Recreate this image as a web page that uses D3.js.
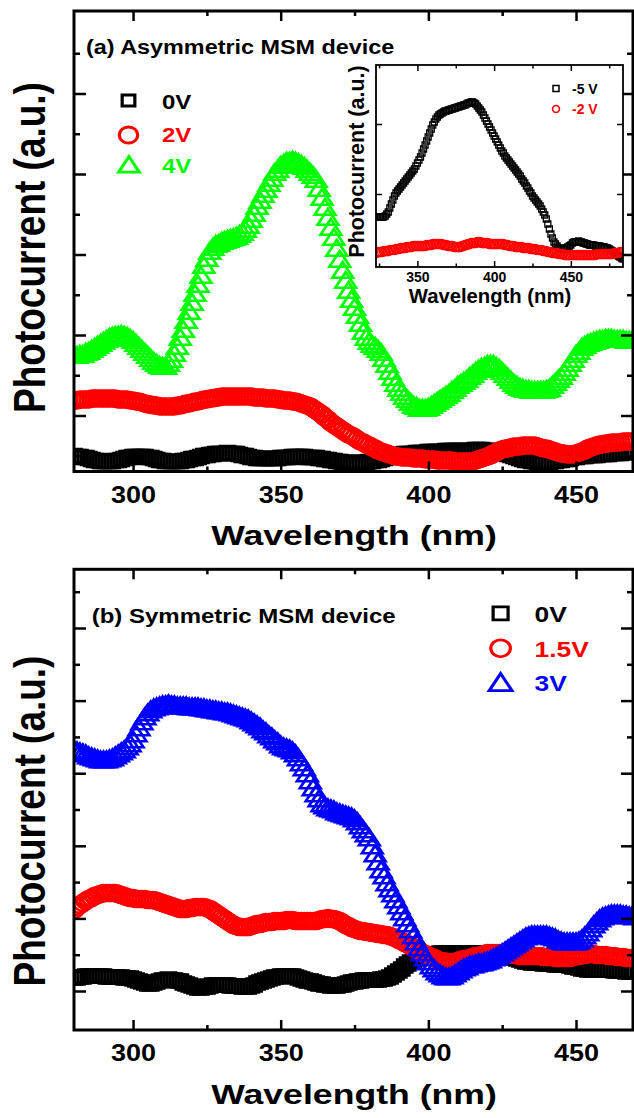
<!DOCTYPE html>
<html>
<head>
<meta charset="utf-8">
<script src="https://cdn.jsdelivr.net/npm/d3@7"></script>
<style>
  body { margin: 0; background: #fff; }
  svg { display: block; }
  text { font-family: "Liberation Sans", Arial, sans-serif; font-weight: bold; }
</style>
</head>
<body>
<svg id="chart" width="634" height="1118"></svg>
<script>
// wavelength grid (nm), 1 nm steps
const wavelength = d3.range(280, 471);
const insetWavelength = d3.range(323, 485);

// x ticks
const xMajor = [300, 350, 400, 450];
const xMinor = [325, 375, 425];
const insetXMajor = [350, 400, 450];
const insetXMinor = [325, 375, 425, 475];

// y ticks (arbitrary units, unlabeled)
const yMajorA = [5.6, 13.65, 21.7, 29.75, 37.8];
const yMinorA = [1.575, 9.625, 17.675, 25.725, 33.775, 41.825];
const yMajorB = [3.9, 11.16, 18.42, 25.68, 32.94, 40.2];
const yMinorB = [7.53, 14.79, 22.05, 29.31, 36.57, 43.83];
const insetYMajor = [7.3, 14.3];

// (a) asymmetric MSM device
const a0V = [
  1.6, 1.5, 1.5, 1.4, 1.4, 1.3, 1.2, 1.1, 1.1, 1.0,
  1.0, 1.0, 1.0, 1.0, 1.1, 1.1, 1.2, 1.3, 1.4, 1.4,
  1.5, 1.5, 1.5, 1.5, 1.5, 1.4, 1.4, 1.3, 1.2, 1.1,
  1.1, 1.0, 1.0, 1.0, 1.0, 1.0, 1.0, 1.1, 1.1, 1.2,
  1.3, 1.3, 1.4, 1.5, 1.6, 1.6, 1.7, 1.7, 1.8, 1.8,
  1.8, 1.8, 1.9, 1.8, 1.8, 1.8, 1.7, 1.6, 1.6, 1.5,
  1.4, 1.4, 1.3, 1.3, 1.3, 1.3, 1.3, 1.3, 1.3, 1.3,
  1.4, 1.4, 1.4, 1.4, 1.5, 1.5, 1.5, 1.5, 1.5, 1.4,
  1.4, 1.4, 1.4, 1.3, 1.3, 1.2, 1.2, 1.1, 1.1, 1.0,
  1.0, 0.9, 0.9, 0.9, 0.9, 0.9, 0.9, 0.9, 0.9, 0.9,
  1.0, 1.0, 1.1, 1.1, 1.2, 1.3, 1.4, 1.4, 1.5, 1.6,
  1.7, 1.7, 1.8, 1.8, 1.8, 1.8, 1.9, 1.9, 1.9, 1.9,
  2.0, 2.0, 2.0, 2.0, 2.0, 2.0, 2.1, 2.1, 2.1, 2.1,
  2.1, 2.1, 2.1, 2.1, 2.1, 2.1, 2.2, 2.2, 2.2, 2.1,
  2.1, 2.1, 2.1, 2.0, 2.0, 1.9, 1.8, 1.7, 1.6, 1.5,
  1.4, 1.3, 1.2, 1.1, 1.1, 1.0, 1.0, 0.9, 0.9, 0.9,
  0.9, 0.9, 1.0, 1.0, 1.1, 1.1, 1.2, 1.2, 1.3, 1.4,
  1.4, 1.5, 1.5, 1.5, 1.6, 1.6, 1.6, 1.6, 1.7, 1.7,
  1.7, 1.7, 1.8, 1.8, 1.8, 1.8, 1.9, 1.9, 1.9, 1.9,
  1.9
];
const a2V = [
  7.1, 7.1, 7.2, 7.2, 7.2, 7.2, 7.3, 7.3, 7.3, 7.3,
  7.3, 7.3, 7.3, 7.3, 7.3, 7.2, 7.2, 7.2, 7.2, 7.1,
  7.1, 7.0, 7.0, 6.9, 6.8, 6.7, 6.7, 6.6, 6.6, 6.5,
  6.5, 6.5, 6.5, 6.5, 6.5, 6.6, 6.6, 6.7, 6.8, 6.8,
  6.9, 7.0, 7.0, 7.1, 7.2, 7.2, 7.3, 7.3, 7.4, 7.4,
  7.5, 7.5, 7.5, 7.5, 7.5, 7.5, 7.5, 7.5, 7.5, 7.5,
  7.5, 7.4, 7.4, 7.4, 7.4, 7.3, 7.3, 7.3, 7.3, 7.2,
  7.2, 7.1, 7.1, 7.1, 7.0, 7.0, 6.9, 6.8, 6.7, 6.6,
  6.5, 6.3, 6.1, 5.9, 5.7, 5.4, 5.2, 4.9, 4.7, 4.5,
  4.3, 4.1, 3.9, 3.7, 3.6, 3.4, 3.2, 3.0, 2.9, 2.7,
  2.6, 2.4, 2.3, 2.1, 2.0, 1.9, 1.8, 1.7, 1.6, 1.5,
  1.5, 1.4, 1.4, 1.4, 1.4, 1.3, 1.3, 1.3, 1.3, 1.2,
  1.2, 1.2, 1.2, 1.1, 1.1, 1.1, 1.1, 1.1, 1.1, 1.0,
  1.0, 1.0, 1.0, 1.0, 1.0, 1.0, 1.1, 1.2, 1.3, 1.4,
  1.5, 1.6, 1.8, 1.9, 2.1, 2.2, 2.3, 2.3, 2.4, 2.5,
  2.5, 2.5, 2.6, 2.6, 2.6, 2.6, 2.6, 2.5, 2.4, 2.3,
  2.3, 2.2, 2.1, 2.0, 1.9, 1.8, 1.8, 1.7, 1.7, 1.7,
  1.8, 1.9, 2.0, 2.1, 2.3, 2.4, 2.5, 2.6, 2.7, 2.7,
  2.8, 2.8, 2.9, 2.9, 2.9, 2.9, 3.0, 3.0, 3.0, 3.0,
  3.0
];
const a4V = [
  11.4, 11.4, 11.5, 11.5, 11.7, 11.8, 12.0, 12.2, 12.4, 12.6,
  12.8, 13.0, 13.2, 13.3, 13.4, 13.4, 13.5, 13.4, 13.3, 13.1,
  12.9, 12.6, 12.3, 12.0, 11.7, 11.4, 11.1, 10.8, 10.6, 10.4,
  10.3, 10.3, 10.6, 11.0, 11.6, 12.3, 13.2, 14.0, 14.9, 15.8,
  16.7, 17.6, 18.5, 19.4, 20.4, 21.1, 21.8, 22.2, 22.5, 22.6,
  22.8, 22.9, 23.0, 23.1, 23.2, 23.3, 23.5, 23.7, 24.0, 24.4,
  25.0, 25.6, 26.3, 26.9, 27.5, 28.0, 28.6, 29.1, 29.7, 30.0,
  30.4, 30.6, 30.8, 30.8, 30.9, 30.8, 30.7, 30.5, 30.3, 30.0,
  29.7, 29.4, 29.0, 28.1, 27.2, 26.2, 25.2, 24.2, 23.2, 22.1,
  21.0, 19.9, 18.9, 17.9, 17.0, 16.2, 15.4, 14.6, 13.8, 13.2,
  12.8, 12.5, 12.3, 12.0, 11.7, 11.1, 10.5, 9.8, 9.2, 8.6,
  8.1, 7.7, 7.3, 7.0, 6.7, 6.4, 6.3, 6.1, 6.1, 6.1,
  6.2, 6.4, 6.6, 6.8, 7.0, 7.2, 7.4, 7.6, 7.9, 8.1,
  8.4, 8.6, 8.8, 9.0, 9.3, 9.5, 9.8, 10.0, 10.2, 10.3,
  10.5, 10.5, 10.5, 10.3, 10.1, 9.8, 9.5, 9.2, 8.9, 8.6,
  8.4, 8.2, 8.1, 8.0, 8.0, 7.9, 7.9, 7.9, 7.9, 7.9,
  8.0, 8.1, 8.4, 8.7, 9.0, 9.3, 9.7, 10.1, 10.6, 11.0,
  11.5, 11.8, 12.2, 12.4, 12.6, 12.7, 12.8, 12.9, 13.0, 13.0,
  13.1, 13.1, 13.1, 13.0, 13.0, 13.0, 13.0, 12.9, 12.9, 12.9,
  12.9
];

// (b) symmetric MSM device
const b0V = [
  5.2, 5.2, 5.3, 5.3, 5.4, 5.4, 5.4, 5.4, 5.4, 5.4,
  5.4, 5.3, 5.3, 5.3, 5.3, 5.3, 5.3, 5.2, 5.2, 5.2,
  5.1, 5.0, 4.9, 4.8, 4.7, 4.6, 4.6, 4.7, 4.8, 4.9,
  5.0, 5.0, 5.1, 5.0, 5.0, 4.9, 4.9, 4.7, 4.6, 4.5,
  4.4, 4.3, 4.2, 4.2, 4.3, 4.3, 4.4, 4.5, 4.5, 4.5,
  4.5, 4.5, 4.5, 4.4, 4.4, 4.4, 4.4, 4.3, 4.3, 4.3,
  4.4, 4.5, 4.7, 4.8, 4.9, 5.0, 5.1, 5.2, 5.3, 5.3,
  5.4, 5.4, 5.4, 5.4, 5.4, 5.3, 5.2, 5.1, 5.0, 4.9,
  4.9, 4.8, 4.7, 4.6, 4.6, 4.5, 4.5, 4.4, 4.4, 4.4,
  4.5, 4.5, 4.6, 4.7, 4.8, 4.8, 4.9, 4.9, 5.0, 5.0,
  5.0, 5.0, 5.0, 5.0, 5.1, 5.1, 5.2, 5.3, 5.5, 5.7,
  5.9, 6.1, 6.4, 6.6, 6.8, 6.9, 7.1, 7.2, 7.4, 7.4,
  7.5, 7.6, 7.6, 7.6, 7.7, 7.7, 7.7, 7.7, 7.7, 7.7,
  7.7, 7.7, 7.7, 7.7, 7.7, 7.7, 7.7, 7.7, 7.7, 7.7,
  7.7, 7.7, 7.7, 7.7, 7.7, 7.6, 7.5, 7.4, 7.3, 7.2,
  7.1, 7.0, 6.9, 6.8, 6.8, 6.7, 6.7, 6.7, 6.7, 6.6,
  6.6, 6.6, 6.6, 6.5, 6.5, 6.5, 6.5, 6.5, 6.4, 6.3,
  6.3, 6.2, 6.1, 6.1, 6.0, 6.0, 6.0, 6.0, 6.0, 6.0,
  6.0, 6.0, 6.0, 5.9, 5.9, 5.9, 5.9, 5.8, 5.8, 5.8,
  5.8
];
const b15V = [
  12.0, 12.3, 12.5, 12.7, 12.9, 13.1, 13.2, 13.4, 13.5, 13.6,
  13.7, 13.7, 13.7, 13.7, 13.7, 13.6, 13.5, 13.4, 13.3, 13.2,
  13.2, 13.1, 13.1, 13.1, 13.1, 13.0, 13.0, 13.0, 12.9, 12.8,
  12.7, 12.6, 12.5, 12.4, 12.3, 12.2, 12.1, 12.1, 12.1, 12.2,
  12.2, 12.3, 12.3, 12.3, 12.3, 12.2, 12.1, 11.9, 11.7, 11.5,
  11.3, 11.1, 10.9, 10.7, 10.5, 10.4, 10.3, 10.3, 10.3, 10.3,
  10.4, 10.5, 10.6, 10.6, 10.7, 10.8, 10.8, 10.8, 10.9, 10.9,
  10.9, 10.9, 11.0, 11.0, 11.0, 10.9, 10.9, 10.9, 10.9, 10.9,
  10.9, 10.9, 10.9, 11.0, 11.1, 11.1, 11.2, 11.1, 11.1, 11.0,
  10.9, 10.7, 10.5, 10.4, 10.2, 10.1, 10.0, 9.9, 9.9, 9.8,
  9.8, 9.7, 9.7, 9.6, 9.6, 9.5, 9.5, 9.4, 9.3, 9.2,
  9.0, 8.9, 8.7, 8.6, 8.4, 8.2, 8.1, 7.9, 7.7, 7.6,
  7.4, 7.3, 7.2, 7.0, 6.9, 6.9, 6.8, 6.8, 6.8, 6.8,
  6.9, 7.0, 7.1, 7.1, 7.2, 7.3, 7.4, 7.4, 7.5, 7.6,
  7.7, 7.7, 7.7, 7.7, 7.7, 7.7, 7.7, 7.6, 7.6, 7.5,
  7.5, 7.4, 7.4, 7.4, 7.4, 7.4, 7.4, 7.4, 7.4, 7.3,
  7.3, 7.3, 7.3, 7.2, 7.2, 7.2, 7.2, 7.2, 7.2, 7.3,
  7.4, 7.4, 7.5, 7.5, 7.6, 7.6, 7.6, 7.5, 7.5, 7.5,
  7.5, 7.4, 7.4, 7.4, 7.3, 7.3, 7.3, 7.2, 7.2, 7.2,
  7.2
];
const b3V = [
  27.8, 27.7, 27.6, 27.5, 27.4, 27.2, 27.1, 27.0, 26.9, 26.8,
  26.8, 26.8, 26.9, 27.0, 27.2, 27.4, 27.6, 27.8, 28.1, 28.4,
  28.8, 29.4, 30.0, 30.6, 31.1, 31.5, 31.8, 32.0, 32.1, 32.2,
  32.3, 32.3, 32.4, 32.3, 32.3, 32.2, 32.2, 32.2, 32.2, 32.1,
  32.1, 32.1, 32.1, 32.0, 32.0, 31.9, 31.9, 31.8, 31.8, 31.7,
  31.7, 31.6, 31.6, 31.5, 31.4, 31.3, 31.2, 31.1, 31.0, 30.9,
  30.7, 30.5, 30.3, 30.1, 29.8, 29.6, 29.3, 29.1, 28.8, 28.6,
  28.3, 28.1, 28.0, 27.9, 27.7, 27.4, 27.0, 26.5, 26.0, 25.4,
  24.7, 24.0, 23.4, 22.9, 22.4, 22.2, 22.0, 21.9, 21.8, 21.6,
  21.5, 21.4, 21.3, 21.2, 21.1, 20.9, 20.6, 20.2, 19.8, 19.4,
  19.0, 18.2, 17.4, 16.6, 15.8, 15.2, 14.5, 13.9, 13.4, 12.8,
  12.2, 11.6, 11.0, 10.4, 9.8, 9.2, 8.6, 8.0, 7.5, 7.0,
  6.6, 6.2, 5.9, 5.6, 5.4, 5.2, 5.1, 5.1, 5.2, 5.4,
  5.6, 5.8, 6.0, 6.1, 6.3, 6.3, 6.4, 6.5, 6.5, 6.6,
  6.7, 6.8, 7.0, 7.1, 7.3, 7.5, 7.7, 7.9, 8.1, 8.3,
  8.5, 8.7, 8.9, 9.1, 9.2, 9.3, 9.3, 9.3, 9.3, 9.3,
  9.3, 9.2, 9.1, 9.0, 8.8, 8.7, 8.6, 8.6, 8.6, 8.6,
  8.6, 8.7, 8.9, 9.2, 9.5, 9.9, 10.3, 10.6, 10.9, 11.1,
  11.2, 11.3, 11.4, 11.4, 11.4, 11.4, 11.3, 11.3, 11.2, 11.2,
  11.1
];

// inset of (a): reverse bias
const inset5V = [
  5.0, 5.0, 5.0, 5.0, 5.0, 5.0, 5.1, 5.3, 5.5, 5.9,
  6.3, 6.7, 7.1, 7.4, 7.6, 7.8, 8.0, 8.2, 8.4, 8.6,
  8.8, 9.0, 9.2, 9.4, 9.6, 9.8, 10.1, 10.4, 10.7, 11.0,
  11.4, 11.8, 12.2, 12.6, 13.0, 13.4, 13.8, 14.2, 14.5, 14.8,
  15.0, 15.2, 15.3, 15.4, 15.5, 15.6, 15.6, 15.7, 15.7, 15.8,
  15.8, 15.9, 15.9, 16.0, 16.0, 16.1, 16.1, 16.2, 16.2, 16.3,
  16.4, 16.4, 16.5, 16.5, 16.4, 16.3, 16.1, 15.9, 15.7, 15.5,
  15.2, 14.9, 14.6, 14.3, 14.0, 13.7, 13.4, 13.1, 12.8, 12.5,
  12.2, 11.9, 11.6, 11.4, 11.1, 10.9, 10.7, 10.5, 10.3, 10.1,
  9.9, 9.7, 9.5, 9.3, 9.1, 8.8, 8.6, 8.4, 8.1, 7.9,
  7.6, 7.4, 7.1, 6.9, 6.7, 6.5, 6.3, 6.1, 5.8, 5.5,
  5.2, 4.8, 4.3, 3.8, 3.3, 2.9, 2.5, 2.3, 2.1, 1.9,
  1.9, 1.8, 1.8, 1.8, 1.9, 2.0, 2.1, 2.2, 2.4, 2.5,
  2.5, 2.5, 2.6, 2.5, 2.5, 2.4, 2.4, 2.3, 2.3, 2.2,
  2.2, 2.2, 2.2, 2.1, 2.1, 2.1, 2.1, 2.0, 2.0, 2.0,
  1.9, 1.9, 1.8, 1.7, 1.6, 1.5, 1.4, 1.2, 1.1, 1.0,
  0.9, 0.8
];
const inset2V = [
  1.4, 1.5, 1.5, 1.5, 1.5, 1.6, 1.6, 1.6, 1.6, 1.7,
  1.7, 1.7, 1.7, 1.8, 1.8, 1.8, 1.9, 1.9, 1.9, 1.9,
  2.0, 2.0, 2.0, 2.0, 2.1, 2.1, 2.1, 2.1, 2.1, 2.1,
  2.1, 2.1, 2.1, 2.2, 2.2, 2.2, 2.2, 2.3, 2.3, 2.3,
  2.3, 2.3, 2.3, 2.3, 2.2, 2.2, 2.2, 2.1, 2.1, 2.1,
  2.1, 2.0, 2.0, 2.0, 2.0, 2.0, 2.1, 2.1, 2.2, 2.2,
  2.3, 2.3, 2.4, 2.4, 2.4, 2.4, 2.5, 2.5, 2.5, 2.4,
  2.4, 2.4, 2.4, 2.4, 2.3, 2.3, 2.3, 2.3, 2.3, 2.3,
  2.3, 2.3, 2.3, 2.3, 2.2, 2.2, 2.2, 2.1, 2.1, 2.1,
  2.1, 2.0, 2.0, 2.0, 2.0, 2.0, 1.9, 1.9, 1.9, 1.9,
  1.9, 1.8, 1.8, 1.8, 1.8, 1.7, 1.7, 1.7, 1.7, 1.6,
  1.6, 1.6, 1.5, 1.5, 1.5, 1.4, 1.4, 1.4, 1.4, 1.3,
  1.3, 1.3, 1.3, 1.2, 1.2, 1.2, 1.2, 1.2, 1.2, 1.2,
  1.2, 1.2, 1.2, 1.2, 1.2, 1.2, 1.2, 1.2, 1.2, 1.2,
  1.2, 1.2, 1.2, 1.2, 1.3, 1.3, 1.3, 1.3, 1.3, 1.3,
  1.3, 1.3, 1.3, 1.3, 1.3, 1.4, 1.4, 1.4, 1.4, 1.5,
  1.5, 1.5
];

const BLACK = "#000000", RED = "#ff0000", GREEN = "#00ff00", BLUE = "#0000ff";
const stretch = 1.15;   // source figure is a bit wider than tall

const svg = d3.select("#chart");
const xDomain = [280, 469.3];
const plotLeft = 74, plotRight = 633;

function label(g, str, x, y, size, opt = {}) {
  return g.append("text")
    .attr("transform", `translate(${x},${y}) scale(${opt.sx ?? 1.2},1)` + (opt.rotate ? ` rotate(${opt.rotate})` : ""))
    .attr("text-anchor", opt.anchor || "start")
    .attr("fill", opt.color || BLACK)
    .style("font-size", size + "px")
    .text(str);
}

function tickAxis(g, axis, values, len, width) {
  const a = g.call(axis.tickValues(values).tickSizeInner(-len).tickSizeOuter(0).tickFormat(""));
  a.select(".domain").remove();
  a.selectAll(".tick line").attr("stroke-width", width);
  a.selectAll(".tick text").remove();
  return a;
}

function drawPanel(cfg) {
  const x = d3.scaleLinear().domain(xDomain).range([plotLeft, plotRight]);
  const y = d3.scaleLinear().domain([0, cfg.yMax]).range([cfg.bottom, cfg.top]);
  const g = svg.append("g");

  svg.append("clipPath").attr("id", "clip-" + cfg.id).append("rect")
    .attr("x", plotLeft).attr("y", cfg.top)
    .attr("width", plotRight - plotLeft).attr("height", cfg.bottom - cfg.top);

  const plot = g.append("g").attr("clip-path", `url(#clip-${cfg.id})`);
  cfg.series.forEach(s => {
    const sym = d3.symbol(s.shape, s.size)();
    plot.append("g").selectAll("path")
      .data(s.values.map((v, i) => [wavelength[i], v]))
      .join("path")
      .attr("d", sym)
      .attr("transform", d => `translate(${x(d[0])},${y(d[1])}) scale(${stretch},1)`)
      .attr("fill", "none")
      .attr("stroke", s.color)
      .attr("stroke-width", 2.5);
  });

  // frame and inward ticks
  g.append("rect")
    .attr("x", plotLeft).attr("y", cfg.top)
    .attr("width", plotRight - plotLeft).attr("height", cfg.bottom - cfg.top)
    .attr("fill", "none").attr("stroke", BLACK).attr("stroke-width", 3);

  const bottomAxis = g.append("g").attr("transform", `translate(0,${cfg.bottom})`)
    .call(d3.axisBottom(x).tickValues(xMajor).tickSizeInner(-10).tickSizeOuter(0).tickFormat(d3.format("d")));
  bottomAxis.select(".domain").remove();
  bottomAxis.selectAll(".tick line").attr("stroke-width", 2.5);
  bottomAxis.selectAll(".tick text")
    .attr("y", 31.5).attr("dy", null)
    .attr("transform", `scale(${stretch},1)`)
    .attr("fill", BLACK)
    .style("font-size", "23.5px");

  tickAxis(g.append("g").attr("transform", `translate(0,${cfg.bottom})`), d3.axisBottom(x), xMinor, 5, 2.5);
  tickAxis(g.append("g").attr("transform", `translate(0,${cfg.top})`), d3.axisTop(x), xMajor, 10, 2.5);
  tickAxis(g.append("g").attr("transform", `translate(0,${cfg.top})`), d3.axisTop(x), xMinor, 5, 2.5);
  tickAxis(g.append("g").attr("transform", `translate(${plotLeft},0)`), d3.axisLeft(y), cfg.yMajor, 12, 2.5);
  tickAxis(g.append("g").attr("transform", `translate(${plotLeft},0)`), d3.axisLeft(y), cfg.yMinor, 6, 2.5);
  tickAxis(g.append("g").attr("transform", `translate(${plotRight},0)`), d3.axisRight(y), cfg.yMajor, 12, 2.5);
  tickAxis(g.append("g").attr("transform", `translate(${plotRight},0)`), d3.axisRight(y), cfg.yMinor, 6, 2.5);

  // titles
  label(g, "Wavelength (nm)", 354, cfg.bottom + 73.5, 28.5, { anchor: "middle", sx: 1.25 });
  label(g, "Photocurrent (a.u.)", 45, cfg.yTitleY, 37, { anchor: "middle", rotate: -90 });
  label(g, cfg.title, cfg.titleX, cfg.titleY, cfg.titleSize);

  // legend
  cfg.legend.forEach(l => {
    g.append("path")
      .attr("d", d3.symbol(l.shape, l.size)())
      .attr("transform", `translate(${l.mx},${l.my}) scale(${stretch},1)`)
      .attr("fill", "none").attr("stroke", l.color).attr("stroke-width", 2.8);
    label(g, l.text, l.tx, l.ty, cfg.legendSize, { color: l.color });
  });
  return g;
}

drawPanel({
  id: "a", top: 11, bottom: 471.5, yMax: 46.05,
  yMajor: yMajorA, yMinor: yMinorA, yTitleY: 247.5,
  title: "(a) Asymmetric MSM device", titleX: 86, titleY: 53.5, titleSize: 19.5,
  series: [
    { values: a0V, shape: d3.symbolSquare, size: 169, color: BLACK },
    { values: a2V, shape: d3.symbolCircle, size: 201, color: RED },
    { values: a4V, shape: d3.symbolTriangle, size: 140, color: GREEN }
  ],
  legendSize: 20,
  legend: [
    { text: "0V", shape: d3.symbolSquare, size: 121, color: BLACK, mx: 128.5, my: 100.5, tx: 162, ty: 108.5 },
    { text: "2V", shape: d3.symbolCircle, size: 201, color: RED, mx: 128.5, my: 135, tx: 162, ty: 141.7 },
    { text: "4V", shape: d3.symbolTriangle, size: 140, color: GREEN, mx: 129, my: 167, tx: 162, ty: 173.3 }
  ]
});

drawPanel({
  id: "b", top: 569.3, bottom: 1030, yMax: 46.07,
  yMajor: yMajorB, yMinor: yMinorB, yTitleY: 821,
  title: "(b) Symmetric MSM device", titleX: 91.7, titleY: 623.3, titleSize: 20,
  series: [
    { values: b0V, shape: d3.symbolSquare, size: 169, color: BLACK },
    { values: b15V, shape: d3.symbolCircle, size: 201, color: RED },
    { values: b3V, shape: d3.symbolTriangle, size: 140, color: BLUE }
  ],
  legendSize: 22,
  legend: [
    { text: "0V", shape: d3.symbolSquare, size: 169, color: BLACK, mx: 500.6, my: 613.3, tx: 534.6, ty: 621.7 },
    { text: "1.5V", shape: d3.symbolCircle, size: 227, color: RED, mx: 500.6, my: 648.3, tx: 534.6, ty: 656.7 },
    { text: "3V", shape: d3.symbolTriangle, size: 170, color: BLUE, mx: 500.6, my: 685, tx: 534.6, ty: 690.7 }
  ]
});

// ---- inset in panel (a)
(function drawInset() {
  const box = { left: 376, right: 623, top: 65, bottom: 267 };
  const x = d3.scaleLinear().domain([323, 484]).range([box.left, box.right]);
  const y = d3.scaleLinear().domain([0, 20.2]).range([box.bottom, box.top]);
  const g = svg.append("g");

  g.append("rect")
    .attr("x", box.left).attr("y", box.top)
    .attr("width", box.right - box.left).attr("height", box.bottom - box.top)
    .attr("fill", "#fff");

  svg.append("clipPath").attr("id", "clip-inset").append("rect")
    .attr("x", box.left).attr("y", box.top)
    .attr("width", box.right - box.left).attr("height", box.bottom - box.top);
  const plot = g.append("g").attr("clip-path", "url(#clip-inset)");

  const insetSeries = [
    { values: inset5V, shape: d3.symbolSquare, size: 36, color: BLACK },
    { values: inset2V, shape: d3.symbolCircle, size: 64, color: RED }
  ];
  insetSeries.forEach(s => {
    const sym = d3.symbol(s.shape, s.size)();
    plot.append("g").selectAll("path")
      .data(s.values.map((v, i) => [insetWavelength[i], v]))
      .join("path")
      .attr("d", sym)
      .attr("transform", d => `translate(${x(d[0])},${y(d[1])})`)
      .attr("fill", "none")
      .attr("stroke", s.color)
      .attr("stroke-width", 1.3);
  });

  g.append("rect")
    .attr("x", box.left).attr("y", box.top)
    .attr("width", box.right - box.left).attr("height", box.bottom - box.top)
    .attr("fill", "none").attr("stroke", BLACK).attr("stroke-width", 1.8);

  const bx = g.append("g").attr("transform", `translate(0,${box.bottom})`)
    .call(d3.axisBottom(x).tickValues(insetXMajor).tickSizeInner(-6).tickSizeOuter(0).tickFormat(d3.format("d")));
  bx.select(".domain").remove();
  bx.selectAll(".tick line").attr("stroke-width", 1.5);
  bx.selectAll(".tick text").attr("y", 14.5).attr("dy", null).attr("fill", BLACK).style("font-size", "14px");

  tickAxis(g.append("g").attr("transform", `translate(0,${box.bottom})`), d3.axisBottom(x), insetXMinor, 3.5, 1.5);
  tickAxis(g.append("g").attr("transform", `translate(0,${box.top})`), d3.axisTop(x), insetXMajor, 6, 1.5);
  tickAxis(g.append("g").attr("transform", `translate(0,${box.top})`), d3.axisTop(x), insetXMinor, 3.5, 1.5);
  tickAxis(g.append("g").attr("transform", `translate(${box.left},0)`), d3.axisLeft(y), insetYMajor, 6, 1.5);
  tickAxis(g.append("g").attr("transform", `translate(${box.right},0)`), d3.axisRight(y), insetYMajor, 6, 1.5);

  label(g, "Wavelength (nm)", 490, 303, 19.5, { anchor: "middle", sx: 1.04 });
  label(g, "Photocurrent (a.u.)", 364, 161.5, 21.5, { anchor: "middle", sx: 1, rotate: -90 });

  const insetLegend = [
    { text: "-5 V", shape: d3.symbolSquare, size: 36, color: BLACK, my: 88.5, ty: 93.5 },
    { text: "-2 V", shape: d3.symbolCircle, size: 38, color: RED, my: 109, ty: 114 }
  ];
  insetLegend.forEach(l => {
    g.append("path")
      .attr("d", d3.symbol(l.shape, l.size)())
      .attr("transform", `translate(556,${l.my})`)
      .attr("fill", "none").attr("stroke", l.color).attr("stroke-width", 1.5);
    label(g, l.text, 572, l.ty, 14, { color: l.color, sx: 1 });
  });
})();
</script>
</body>
</html>
